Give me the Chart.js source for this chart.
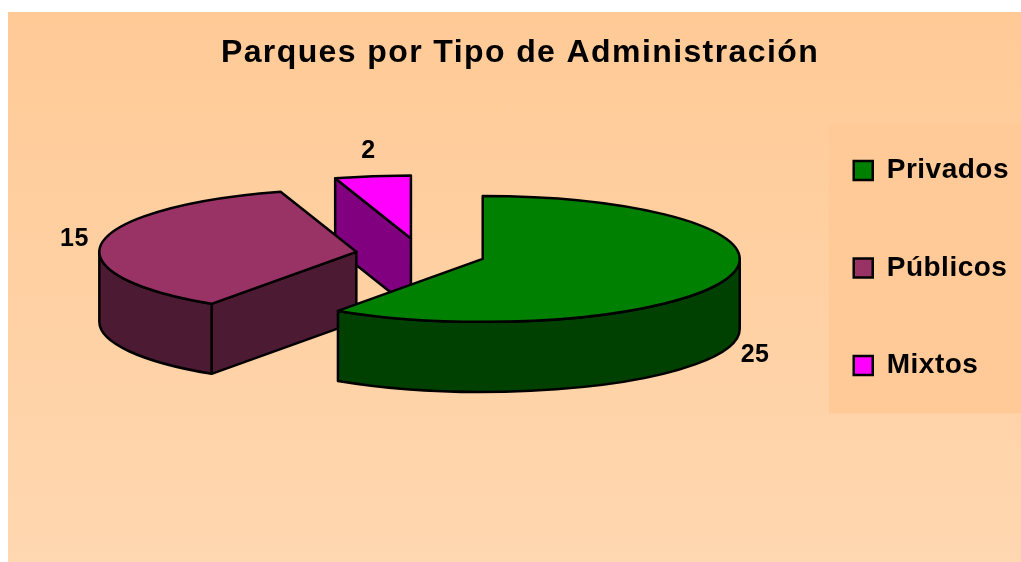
<!DOCTYPE html>
<html lang="es">
<head>
<meta charset="utf-8">
<title>Parques por Tipo de Administración</title>
<script src="https://cdn.jsdelivr.net/npm/chart.js@4.4.1/dist/chart.umd.min.js"></script>
<style>
    html, body { margin: 0; padding: 0; background: #ffffff; }
    #contenedor {
        position: absolute;
        left: 8px;
        top: 12px;
        width: 1013px;
        height: 550px;
        background: linear-gradient(to bottom, #FFCA96, #FFD7B0);
    }
</style>
</head>
<body>
<div id="contenedor">
    <canvas id="canvasParques"></canvas>
</div>
<script>
// Datos de la gráfica
const tipos = ['Privados', 'Públicos', 'Mixtos'];
const parques = [25, 15, 2];

// Colores (cara superior y costado de cada porción)
const coloresTapa = ['#008000', '#993366', '#FF00FF'];
const coloresLado = ['#004000', '#4D1A33', '#800080'];

// Ajustes de la vista 3D
const INCLINACION = 0.245;  // relación alto/ancho de la elipse
const PROFUNDIDAD = 70;     // grosor del pastel
const DESPLAZ_X = 16;
const DESPLAZ_Y = -44;

Chart.defaults.font.family = "'Liberation Sans', Arial, sans-serif";
Chart.defaults.color = '#000000';

/**
 * Dibuja el pastel en 3D a partir de los arcos calculados por Chart.js
 */
const tarta3D = {
    id: 'tarta3D',
    afterInit(chart) {
        // Espaciado de letras como en el original
        [[chart.titleBlock, '1.4px'], [chart.legend, '0.5px']].forEach(([caja, esp]) => {
            if (!caja) return;
            const dibujar = caja.draw.bind(caja);
            caja.draw = (area) => {
                chart.ctx.save();
                chart.ctx.letterSpacing = esp;
                dibujar(area);
                chart.ctx.restore();
            };
        });
    },
    beforeDraw(chart) {
        // Fondo de la leyenda
        const hb = chart.legend.legendHitBoxes;
        if (!hb || !hb.length) return;
        const ctx = chart.ctx;
        const ultimo = hb[hb.length - 1];
        const x0 = hb[0].left - 25;
        const y0 = hb[0].top - 33;
        const y1 = ultimo.top + ultimo.height + 34;
        ctx.save();
        ctx.fillStyle = '#FFCA98';
        ctx.fillRect(x0, y0, chart.width - x0, y1 - y0);
        ctx.restore();
    },
    beforeDatasetsDraw(chart) {
        const ctx = chart.ctx;
        const meta = chart.getDatasetMeta(0);
        const D = PROFUNDIDAD;

        const porciones = meta.data.map((arc, i) => {
            const p = arc.getProps(['x', 'y', 'startAngle', 'endAngle', 'outerRadius'], true);
            const m = (p.startAngle + p.endAngle) / 2;
            const sep = arc.options.offset || 0;
            const rx = p.outerRadius;
            return {
                i, m, rx,
                ry: rx * INCLINACION,
                a0: p.startAngle,
                a1: p.endAngle,
                ax: p.x + DESPLAZ_X + Math.cos(m) * sep,
                ay: p.y + DESPLAZ_Y + Math.sin(m) * sep * INCLINACION,
                borde: arc.options.borderWidth
            };
        });

        const pintar = (relleno, ancho) => {
            ctx.fillStyle = relleno;
            ctx.fill();
            ctx.lineWidth = ancho;
            ctx.strokeStyle = '#000000';
            ctx.stroke();
        };

        ctx.save();
        ctx.lineJoin = 'round';

        // De atrás hacia adelante
        porciones.slice().sort((a, b) => a.ay - b.ay).forEach(s => {
            const lado = coloresLado[s.i];
            const ancho = s.borde;

            // Caras radiales visibles
            [[s.a0, Math.cos(s.a0) < -1e-6], [s.a1, Math.cos(s.a1) > 1e-6]].forEach(([a, visible]) => {
                if (!visible) return;
                const x = s.ax + s.rx * Math.cos(a);
                const y = s.ay + s.ry * Math.sin(a);
                ctx.beginPath();
                ctx.moveTo(s.ax, s.ay);
                ctx.lineTo(x, y);
                ctx.lineTo(x, y + D);
                ctx.lineTo(s.ax, s.ay + D);
                ctx.closePath();
                pintar(lado, ancho);
            });

            // Costado curvo (mitad frontal)
            for (let k = -1; k <= 1; k++) {
                const lo = Math.max(s.a0, 2 * Math.PI * k);
                const hi = Math.min(s.a1, 2 * Math.PI * k + Math.PI);
                if (hi <= lo) continue;
                ctx.beginPath();
                ctx.ellipse(s.ax, s.ay, s.rx, s.ry, 0, lo, hi);
                ctx.ellipse(s.ax, s.ay + D, s.rx, s.ry, 0, hi, lo, true);
                ctx.closePath();
                pintar(lado, ancho);
            }

            // Cara superior
            ctx.beginPath();
            ctx.moveTo(s.ax, s.ay);
            ctx.ellipse(s.ax, s.ay, s.rx, s.ry, 0, s.a0, s.a1);
            ctx.closePath();
            pintar(coloresTapa[s.i], ancho);
        });

        // Etiquetas de valores
        ctx.font = "bold 25px 'Liberation Sans', Arial, sans-serif";
        ctx.letterSpacing = '0.5px';
        ctx.fillStyle = '#000000';
        ctx.textAlign = 'center';
        ctx.textBaseline = 'middle';
        porciones.forEach(s => {
            const c = Math.cos(s.m), sn = Math.sin(s.m);
            const x = s.ax + s.rx * c + 28 * c;
            const y = s.ay + s.ry * sn + 25 * sn + (sn > 0 ? D : 0);
            ctx.fillText(String(parques[s.i]), x, y);
        });

        ctx.restore();
        return false;
    }
};

const ctx = document.getElementById('canvasParques').getContext('2d');
new Chart(ctx, {
    type: 'pie',
    data: {
        labels: tipos,
        datasets: [{
            data: parques,
            backgroundColor: coloresTapa,
            borderColor: '#000000',
            borderWidth: 2.5,
            offset: 65,
            radius: 257
        }]
    },
    options: {
        responsive: true,
        maintainAspectRatio: false,
        animation: false,
        layout: {
            padding: { left: 17, right: 6, top: 0, bottom: 38 }
        },
        plugins: {
            title: {
                display: true,
                text: 'Parques por Tipo de Administración',
                color: '#000000',
                font: { size: 32, weight: 'bold', lineHeight: 1.2 },
                padding: { top: 22, bottom: 0 }
            },
            legend: {
                position: 'right',
                labels: {
                    boxWidth: 19,
                    boxHeight: 19,
                    padding: 69.5,
                    color: '#000000',
                    font: { size: 28, weight: 'bold' }
                }
            },
            tooltip: { enabled: false }
        }
    },
    plugins: [tarta3D]
});
</script>
</body>
</html>
